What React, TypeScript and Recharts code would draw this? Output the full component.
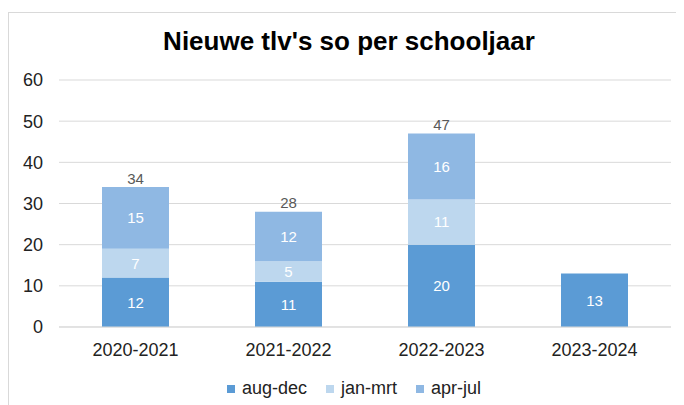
import React from 'react';
import { Bar, BarChart, CartesianGrid, LabelList, XAxis, YAxis } from 'recharts';

const categories = ['2020-2021', '2021-2022', '2022-2023', '2023-2024'];
const augDec = [12, 11, 20, 13];
const janMrt = [7, 5, 11, null];
const aprJul = [15, 12, 16, null];
const totals = [34, 28, 47, null];
const yTicks = [0, 10, 20, 30, 40, 50, 60];

const series = [
  { key: 'augDec', name: 'aug-dec', color: '#5B9BD5' },
  { key: 'janMrt', name: 'jan-mrt', color: '#BDD7EE' },
  { key: 'aprJul', name: 'apr-jul', color: '#8FB8E3' },
];

const data = categories.map((c, i) => ({
  name: c,
  augDec: augDec[i],
  janMrt: janMrt[i],
  aprJul: aprJul[i],
  total: totals[i],
}));

const font = '"Liberation Sans", Arial, sans-serif';

// total on top of the stack, only where the top segment exists
const TotalLabel = (props: any) => {
  const { x, y, width, index } = props;
  if (totals[index] == null || aprJul[index] == null) return null;
  return (
    <text x={x + width / 2} y={y - 9} textAnchor="middle" dominantBaseline="central"
      fill="#595959" fontSize={15} fontFamily={font}>
      {totals[index]}
    </text>
  );
};

const App: React.FC = () => {
  return (
    <div style={{ position: 'relative', width: 676, height: 397, overflow: 'hidden', fontFamily: font }}>
      <div style={{ position: 'absolute', left: 0, top: 4, width: 720, height: 440, border: '1px solid #D9D9D9' }} />
      <div style={{ position: 'absolute', left: 0, top: 20, width: 682, textAlign: 'center', fontSize: 26, lineHeight: '26px', fontWeight: 'bold', color: '#000' }}>
        Nieuwe tlv's so per schooljaar
      </div>
      <div style={{ position: 'absolute', left: 0, top: 0 }}>
        <BarChart width={676} height={397} data={data} margin={{ top: 72, right: 13, left: 0, bottom: 48 }}>
          <CartesianGrid vertical={false} stroke="#D9D9D9" />
          <XAxis dataKey="name" height={30} tickLine={false} axisLine={{ stroke: '#D9D9D9' }}
            tickSize={6} tickMargin={10} tick={{ fill: '#222', fontSize: 18, fontFamily: font }} />
          <YAxis width={51} domain={[0, 60]} ticks={yTicks} tickLine={false} axisLine={false}
            tickSize={6} tickMargin={10} tick={{ fill: '#222', fontSize: 18, fontFamily: font }} />
          {series.map((s) => (
            <Bar key={s.key} dataKey={s.key} name={s.name} stackId="a" fill={s.color} barSize={67} isAnimationActive={false}>
              <LabelList dataKey={s.key} position="center" fill="#fff" fontSize={15} fontFamily={font} />
              {s.key === 'aprJul' ? <LabelList dataKey="total" content={TotalLabel} /> : null}
            </Bar>
          ))}
        </BarChart>
      </div>
      <div style={{ position: 'absolute', left: 219, top: 370, display: 'flex', alignItems: 'center', fontSize: 18, color: '#222', whiteSpace: 'nowrap' }}>
        {series.map((s) => (
          <div key={s.key} style={{ display: 'flex', alignItems: 'center', marginRight: 19 }}>
            <span style={{ display: 'inline-block', width: 8, height: 8, background: s.color, marginRight: 7 }} />
            <span>{s.name}</span>
          </div>
        ))}
      </div>
    </div>
  );
};

export default App;
